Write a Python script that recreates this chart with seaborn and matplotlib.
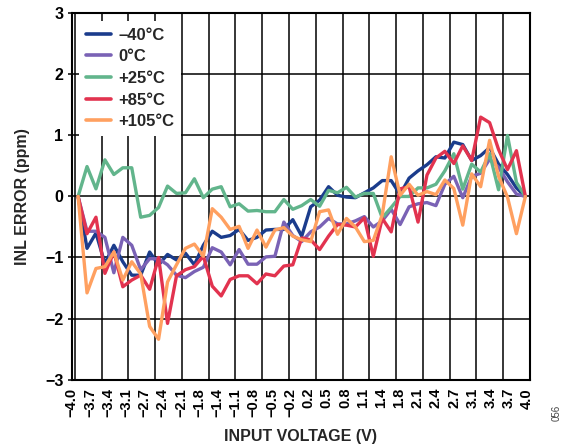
import numpy as np
import pandas as pd
import matplotlib
matplotlib.use("Agg")
import matplotlib.pyplot as plt
import seaborn as sns

# Input voltage sweep (V), one sample every 0.16 V
voltage = np.round(np.linspace(-4.0, 4.0, 51), 2)

# INL error (ppm) per temperature
inl_m40 = [0, -0.85, -0.6, -1.1, -0.8, -1.07, -1.29, -1.29, -0.91, -1.12,
           -0.95, -1.04, -0.93, -1.12, -0.8, -0.57, -0.67, -0.64, -0.54, -0.72,
           -0.67, -0.55, -0.54, -0.54, -0.38, -0.65, -0.17, -0.06, 0.16, 0.02,
           -0.01, -0.02, 0.06, 0.14, 0.26, 0.26, 0.03, 0.3, 0.42, 0.52,
           0.65, 0.63, 0.89, 0.85, 0.59, 0.67, 0.8, 0.53, 0.36, 0.14, 0]
inl_0 = [0, -0.57, -0.57, -0.67, -1.25, -0.67, -0.8, -1.2, -1.02, -1.02,
         -1.12, -1.29, -1.33, -1.23, -1.16, -0.84, -0.91, -1.12, -0.87, -1.11,
         -1.11, -0.99, -0.98, -0.42, -0.64, -0.74, -0.58, -0.5, -0.36, -0.45,
         -0.45, -0.4, -0.33, -0.5, -0.4, -0.21, -0.46, -0.17, -0.12, -0.1,
         -0.15, 0.2, 0.33, -0.02, 0.33, 0.38, 0.61, 0.48, 0.24, 0.04, 0]
inl_25 = [0, 0.49, 0.125, 0.6, 0.36, 0.47, 0.47, -0.34, -0.31, -0.18,
          0.17, 0.05, 0.06, 0.29, -0.02, 0.12, 0.16, -0.17, -0.12, -0.24,
          -0.23, -0.25, -0.25, -0.05, -0.21, -0.15, -0.05, -0.16, 0.1, 0.06,
          0.15, -0.01, 0.05, 0.05, -0.35, -0.18, 0.0, 0.0, 0.14, 0.14,
          0.2, 0.42, 0.7, 0.12, 0.53, 0.4, 0.7, 0.11, 1.0, 0.23, 0]
inl_85 = [0, -0.61, -0.34, -1.26, -0.91, -1.48, -1.37, -1.29, -1.52, -1.0,
          -2.08, -1.3, -1.2, -1.15, -0.98, -1.47, -1.63, -1.36, -1.3, -1.3,
          -1.43, -1.27, -1.3, -1.14, -1.12, -0.68, -0.71, -0.87, -0.65, -0.46,
          -0.47, -0.5, -0.35, -0.98, -0.36, -0.58, 0.125, 0.16, -0.42, 0.35,
          0.63, 0.74, 0.54, 0.83, 0.59, 1.3, 1.21, 0.77, 0.44, 0.75, 0]
inl_105 = [0, -1.58, -1.18, -1.15, -0.91, -1.37, -1.07, -1.27, -2.13, -2.34,
           -1.4, -1.12, -0.85, -0.78, -0.98, -0.2, -0.34, -0.54, -0.49, -0.85,
           -0.55, -0.83, -0.55, -0.51, -0.65, -0.71, -0.74, -0.25, -0.22, -0.62,
           -0.36, -0.5, -0.74, -0.72, -0.3, 0.65, 0.02, 0.2, 0.02, 0.08,
           0.03, 0.27, 0.13, -0.47, 0.37, 0.16, 0.92, 0.33, -0.01, -0.61, 0]

temps = ["\u201340\u00b0C", "0\u00b0C", "+25\u00b0C", "+85\u00b0C", "+105\u00b0C"]
series = [inl_m40, inl_0, inl_25, inl_85, inl_105]
colors = ["#1b3c8c", "#7a62b5", "#62b58c", "#e2334f", "#ffa060"]

x_tick_labels = ["\u22124.0", "\u22123.7", "\u22123.4", "\u22123.1", "\u22122.7",
                 "\u22122.4", "\u22122.1", "\u22121.8", "\u22121.4", "\u22121.1",
                 "\u22120.8", "\u22120.5", "\u22120.2", "0.2", "0.5", "0.8",
                 "1.1", "1.4", "1.8", "2.1", "2.4", "2.7", "3.1", "3.4",
                 "3.7", "4.0"]
y_ticks = [3, 2, 1, 0, -1, -2, -3]
y_tick_labels = ["3", "2", "1", "0", "\u22121", "\u22122", "\u22123"]

df = pd.concat(
    [pd.DataFrame({"voltage": voltage, "inl": vals, "temp": t})
     for t, vals in zip(temps, series)],
    ignore_index=True,
)

sns.set_theme(style="white")
plt.rcParams["font.family"] = ["Liberation Sans", "DejaVu Sans"]
plt.rcParams["font.weight"] = "bold"

fig = plt.figure(figsize=(5.65, 4.46), dpi=100)
ax = fig.add_axes([0.1269, 0.149, 0.8112, 0.821])

sns.lineplot(data=df, x="voltage", y="inl", hue="temp", hue_order=temps,
             palette=colors, sort=False, estimator=None, errorbar=None,
             linewidth=2.4, ax=ax, zorder=3)

xmin, xmax = -4.058, 4.083
ax.set_xlim(xmin, xmax)
ax.set_ylim(-3, 3)

# vertical grid: 17 equal columns, independent of the labels
ax.set_xticks(np.linspace(xmin, xmax, 18), minor=True)
ax.set_xticks(np.linspace(-4.114, 4.03, len(x_tick_labels)))
ax.set_xticklabels(x_tick_labels, rotation=90, fontsize=10.5, fontweight="bold")
ax.set_yticks(y_ticks)
ax.set_yticklabels(y_tick_labels, fontsize=11.5, fontweight="bold")

ax.grid(False)
ax.grid(which="minor", axis="x", color="black", linewidth=1.1)
ax.grid(which="major", axis="y", color="black", linewidth=1.1)
ax.set_axisbelow(True)

ax.tick_params(axis="x", which="both", length=0, pad=6, colors="black")
ax.tick_params(axis="y", which="major", length=3, width=1.1, pad=3,
               direction="out", colors="black", left=True)

for s in ax.spines.values():
    s.set_color("black")
    s.set_linewidth(1.5)

ax.set_xlabel("INPUT VOLTAGE (V)", fontsize=11.5, fontweight="bold")
ax.set_ylabel("INL ERROR (ppm)", fontsize=11.5, fontweight="bold")
ax.xaxis.set_label_coords(0.5, -0.135)
ax.yaxis.set_label_coords(-0.09, 0.5)

handles, labels = ax.get_legend_handles_labels()
leg = ax.legend(handles, labels, loc="upper left", frameon=True,
                facecolor="white", edgecolor="none", framealpha=1,
                fancybox=False, handlelength=1.5,
                handletextpad=0.45, labelspacing=0.4, borderpad=0.4,
                borderaxespad=0.45, prop={"weight": "bold", "size": 12})
for line in leg.get_lines():
    line.set_linewidth(2.6)
leg.set_zorder(5)

fig.text(0.985, 0.075, "056", rotation=90, fontsize=7, color="#444444",
         ha="center", va="center", fontweight="normal")

fig.savefig("out.png", dpi=100)
